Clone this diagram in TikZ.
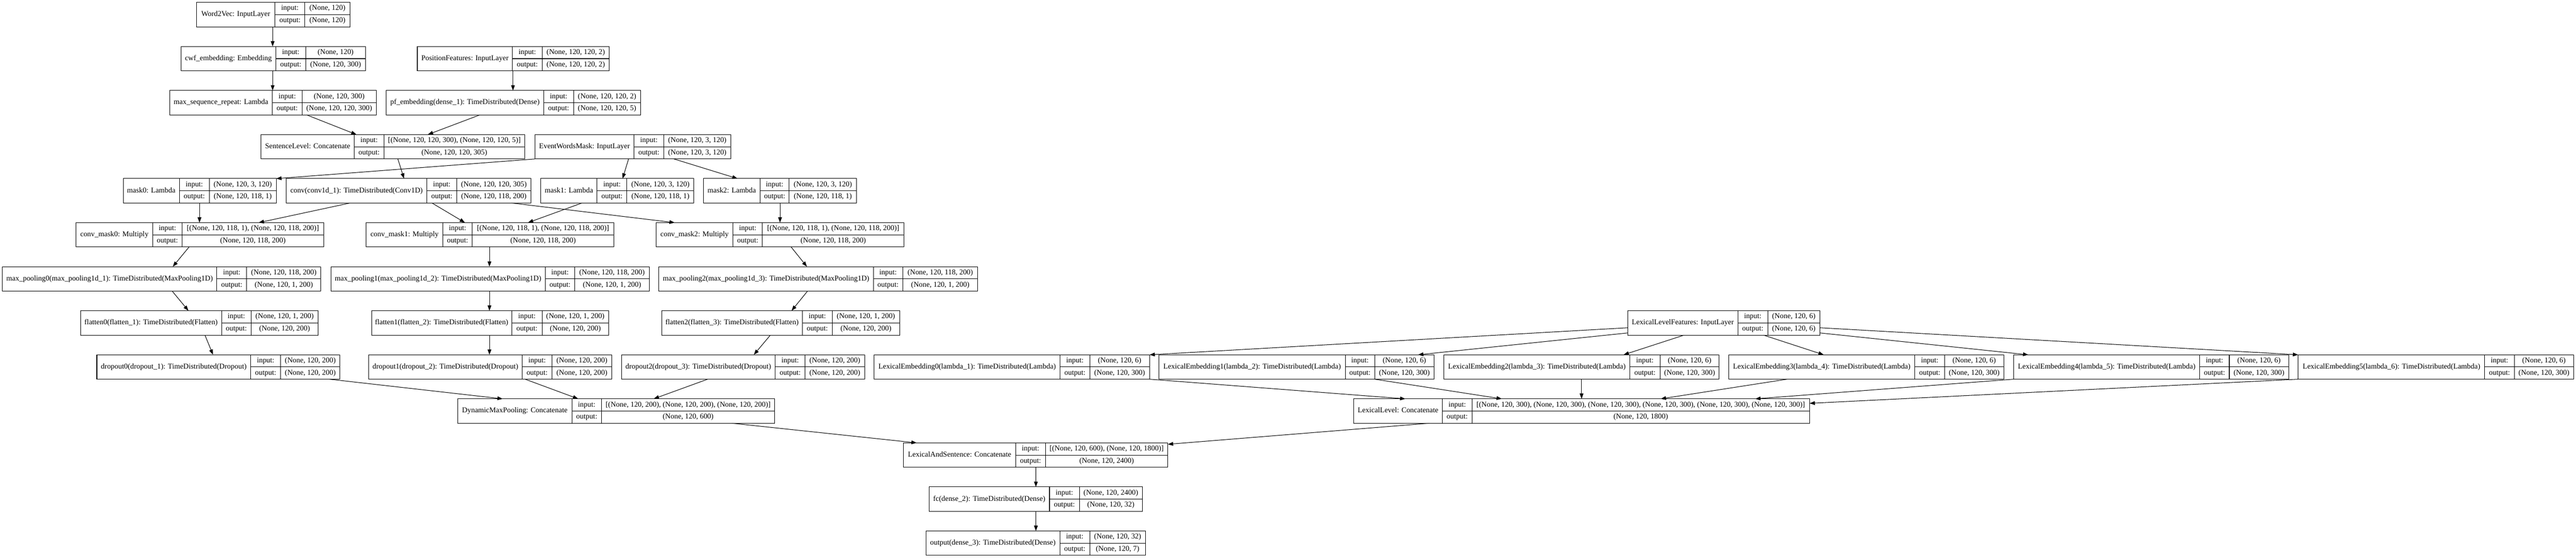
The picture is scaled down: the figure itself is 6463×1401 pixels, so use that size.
\documentclass[tikz,border=0pt]{standalone}
\usepackage{fontspec}
\setmainfont{Liberation Serif}
\usetikzlibrary{arrows.meta,calc}
\tikzset{
  layerbox/.style={draw, line width=1pt, inner sep=0pt, outer sep=0pt, anchor=north west, minimum height=45.975pt},
  celltxt/.style={inner sep=0pt, text height=9.6pt, text depth=3pt, font=\fontsize{14pt}{16pt}\selectfont},
  divline/.style={line width=1pt},
  arr/.style={line width=1pt, -{Triangle[length=10pt,width=7pt]}},
}
\newcommand{\layer}[9]{%
  \node[layerbox, minimum width={(#5-#2)*0.75pt}] (#1) at (#2,#6) {};
  \draw[divline] (#3,#6) -- (#3,#6+61.3);
  \draw[divline] (#4,#6) -- (#4,#6+61.3);
  \draw[divline] (#3,#6+30.65) -- (#5,#6+30.65);
  \node[celltxt] (#1-n) at ({(#2+#3)/2},{#6+30.65}) {#7};
  \node[celltxt] (#1-il) at ({(#3+#4)/2},{#6+15.33}) {input:};
  \node[celltxt] (#1-ol) at ({(#3+#4)/2},{#6+45.98}) {output:};
  \node[celltxt] (#1-i) at ({(#4+#5)/2},{#6+15.33}) {#8};
  \node[celltxt] (#1-o) at ({(#4+#5)/2},{#6+45.98}) {#9};
}
\newcommand{\edge}[4]{\draw[arr] ($(#1.south west)+(#2,0)$) -- ($(#3.north west)+(#4,0)$);}
\begin{document}
\begin{tikzpicture}[x=0.75pt,y=-0.75pt]
\useasboundingbox (0,0) rectangle (6463,1401);
% row 0
\layer{w2v}{493}{690}{765}{878}{6}{Word2Vec: InputLayer}{(None, 120)}{(None, 120)}
% row 1
\layer{cwf}{454}{692}{767}{917}{116.7}{cwf\_embedding: Embedding}{(None, 120)}{(None, 120, 300)}
\layer{posf}{1047}{1286}{1360}{1529}{116.7}{PositionFeatures: InputLayer}{(None, 120, 120, 2)}{(None, 120, 120, 2)}
% row 2
\layer{msr}{426}{683}{758}{944}{227.3}{max\_sequence\_repeat: Lambda}{(None, 120, 300)}{(None, 120, 120, 300)}
\layer{pfe}{969}{1364}{1439}{1607}{227.3}{pf\_embedding(dense\_1): TimeDistributed(Dense)}{(None, 120, 120, 2)}{(None, 120, 120, 5)}
% row 3
\layer{sent}{655}{889}{963}{1317}{337.9}{SentenceLevel: Concatenate}{[(None, 120, 120, 300), (None, 120, 120, 5)]}{(None, 120, 120, 305)}
\layer{ewm}{1342}{1591}{1665}{1834}{337.9}{EventWordsMask: InputLayer}{(None, 120, 3, 120)}{(None, 120, 3, 120)}
% row 4
\layer{mask0}{309}{450}{525}{693}{448.5}{mask0: Lambda}{(None, 120, 3, 120)}{(None, 120, 118, 1)}
\layer{conv}{718}{1071}{1146}{1332}{448.5}{conv(conv1d\_1): TimeDistributed(Conv1D)}{(None, 120, 120, 305)}{(None, 120, 118, 200)}
\layer{mask1}{1357}{1498}{1573}{1741}{448.5}{mask1: Lambda}{(None, 120, 3, 120)}{(None, 120, 118, 1)}
\layer{mask2}{1765}{1907}{1980}{2149}{448.5}{mask2: Lambda}{(None, 120, 3, 120)}{(None, 120, 118, 1)}
% row 5
\layer{cm0}{191}{383}{457}{812}{559.1}{conv\_mask0: Multiply}{[(None, 120, 118, 1), (None, 120, 118, 200)]}{(None, 120, 118, 200)}
\layer{cm1}{919}{1111}{1185}{1540}{559.1}{conv\_mask1: Multiply}{[(None, 120, 118, 1), (None, 120, 118, 200)]}{(None, 120, 118, 200)}
\layer{cm2}{1646}{1839}{1913}{2268}{559.1}{conv\_mask2: Multiply}{[(None, 120, 118, 1), (None, 120, 118, 200)]}{(None, 120, 118, 200)}
% row 6
\layer{mp0}{6}{544}{619}{805}{669.7}{max\_pooling0(max\_pooling1d\_1): TimeDistributed(MaxPooling1D)}{(None, 120, 118, 200)}{(None, 120, 1, 200)}
\layer{mp1}{830}{1368}{1442}{1629}{669.7}{max\_pooling1(max\_pooling1d\_2): TimeDistributed(MaxPooling1D)}{(None, 120, 118, 200)}{(None, 120, 1, 200)}
\layer{mp2}{1653}{2191}{2265}{2453}{669.7}{max\_pooling2(max\_pooling1d\_3): TimeDistributed(MaxPooling1D)}{(None, 120, 118, 200)}{(None, 120, 1, 200)}
% row 7
\layer{fl0}{202}{556}{630}{798}{780.3}{flatten0(flatten\_1): TimeDistributed(Flatten)}{(None, 120, 1, 200)}{(None, 120, 200)}
\layer{fl1}{932}{1284}{1360}{1527}{780.3}{flatten1(flatten\_2): TimeDistributed(Flatten)}{(None, 120, 1, 200)}{(None, 120, 200)}
\layer{fl2}{1660}{2013}{2088}{2257}{780.3}{flatten2(flatten\_3): TimeDistributed(Flatten)}{(None, 120, 1, 200)}{(None, 120, 200)}
\layer{LF}{4084}{4360}{4435}{4566}{780.3}{LexicalLevelFeatures: InputLayer}{(None, 120, 6)}{(None, 120, 6)}
% row 8
\layer{do0}{243}{629}{704}{853}{890.9}{dropout0(dropout\_1): TimeDistributed(Dropout)}{(None, 120, 200)}{(None, 120, 200)}
\layer{do1}{925}{1310}{1385}{1535}{890.9}{dropout1(dropout\_2): TimeDistributed(Dropout)}{(None, 120, 200)}{(None, 120, 200)}
\layer{do2}{1559}{1945}{2020}{2169}{890.9}{dropout2(dropout\_3): TimeDistributed(Dropout)}{(None, 120, 200)}{(None, 120, 200)}
\layer{le0}{2193}{2660}{2734}{2884}{890.9}{LexicalEmbedding0(lambda\_1): TimeDistributed(Lambda)}{(None, 120, 6)}{(None, 120, 300)}
\layer{le1}{2908}{3375}{3449}{3598}{890.9}{LexicalEmbedding1(lambda\_2): TimeDistributed(Lambda)}{(None, 120, 6)}{(None, 120, 300)}
\layer{le2}{3623}{4089}{4165}{4313}{890.9}{LexicalEmbedding2(lambda\_3): TimeDistributed(Lambda)}{(None, 120, 6)}{(None, 120, 300)}
\layer{le3}{4337}{4804}{4879}{5027}{890.9}{LexicalEmbedding3(lambda\_4): TimeDistributed(Lambda)}{(None, 120, 6)}{(None, 120, 300)}
\layer{le4}{5052}{5519}{5593}{5742}{890.9}{LexicalEmbedding4(lambda\_5): TimeDistributed(Lambda)}{(None, 120, 6)}{(None, 120, 300)}
\layer{le5}{5766}{6234}{6308}{6457}{890.9}{LexicalEmbedding5(lambda\_6): TimeDistributed(Lambda)}{(None, 120, 6)}{(None, 120, 300)}
% row 9
\layer{dmp}{1148}{1435}{1509}{1944}{1001.5}{DynamicMaxPooling: Concatenate}{[(None, 120, 200), (None, 120, 200), (None, 120, 200)]}{(None, 120, 600)}
\layer{LL}{3396}{3619}{3693}{4540}{1001.5}{LexicalLevel: Concatenate}{[(None, 120, 300), (None, 120, 300), (None, 120, 300), (None, 120, 300), (None, 120, 300), (None, 120, 300)]}{(None, 120, 1800)}
% row 10-12
\layer{las}{2267}{2548}{2623}{2930}{1112.1}{LexicalAndSentence: Concatenate}{[(None, 120, 600), (None, 120, 1800)]}{(None, 120, 2400)}
\layer{fc}{2331}{2633}{2708}{2866}{1222.7}{fc(dense\_2): TimeDistributed(Dense)}{(None, 120, 2400)}{(None, 120, 32)}
\layer{out}{2323}{2659}{2734}{2874}{1333.3}{output(dense\_3): TimeDistributed(Dense)}{(None, 120, 32)}{(None, 120, 7)}
% connectors
\edge{w2v}{191}{cwf}{230}
\edge{cwf}{230}{msr}{258}
\edge{msr}{343.5}{sent}{239.4}
\edge{posf}{240}{pfe}{318}
\edge{pfe}{234.8}{sent}{418.3}
\edge{sent}{343.2}{conv}{295.7}
\draw[arr] (ewm.south west) -- (mask0.north east);
\edge{ewm}{235}{mask1}{205}
\edge{ewm}{349}{mask2}{85.6}
\edge{mask0}{191.5}{cm0}{309.5}
\edge{conv}{160.3}{cm0}{457.9}
\edge{conv}{365.8}{cm1}{247.6}
\edge{mask1}{103}{cm1}{405.5}
\edge{conv}{565.8}{cm2}{46.8}
\edge{mask2}{192}{cm2}{311}
\edge{cm0}{283.2}{mp0}{427.5}
\edge{cm1}{309}{mp1}{398}
\edge{cm2}{339}{mp2}{371.6}
\edge{mp0}{426}{fl0}{270.8}
\edge{mp1}{398}{fl1}{296}
\edge{mp2}{373}{fl2}{326}
\edge{fl0}{312.2}{do0}{291.5}
\edge{fl1}{296}{do1}{303}
\edge{fl2}{272.7}{do2}{332.3}
\edge{do0}{583.4}{dmp}{113.3}
\edge{do1}{392.5}{dmp}{302.8}
\edge{do2}{216.5}{dmp}{492}
\edge{dmp}{688.6}{las}{33}
\draw[arr] ($(LF.north west)+(0,42.7)$) -- (le0.north east);
\draw[arr] ($(LF.north west)+(0,55.7)$) -- ($(le1.north west)+(649.7,0)$);
\edge{LF}{140.9}{le2}{450.3}
\edge{LF}{340.8}{le3}{238.6}
\draw[arr] ($(LF.north east)+(0,55.7)$) -- ($(le4.north west)+(37,0)$);
\draw[arr] ($(LF.north east)+(0,42.7)$) -- (le5.north west);
\draw[arr] (le0.south east) -- ($(LL.north west)+(130,0)$);
\edge{le1}{541}{LL}{372}
\edge{le2}{345}{LL}{572}
\edge{le3}{146.7}{LL}{770.6}
\draw[arr] (le4.south west) -- ($(LL.north west)+(1007.7,0)$);
\draw[arr] (le5.south west) -- ($(LL.north east)+(0,11.3)$);
\draw[arr] ($(LL.south west)+(189.7,0)$) -- ($(las.north east)+(0,3.5)$);
\edge{las}{331.8}{fc}{268}
\edge{fc}{268}{out}{276}
\end{tikzpicture}
\end{document}
